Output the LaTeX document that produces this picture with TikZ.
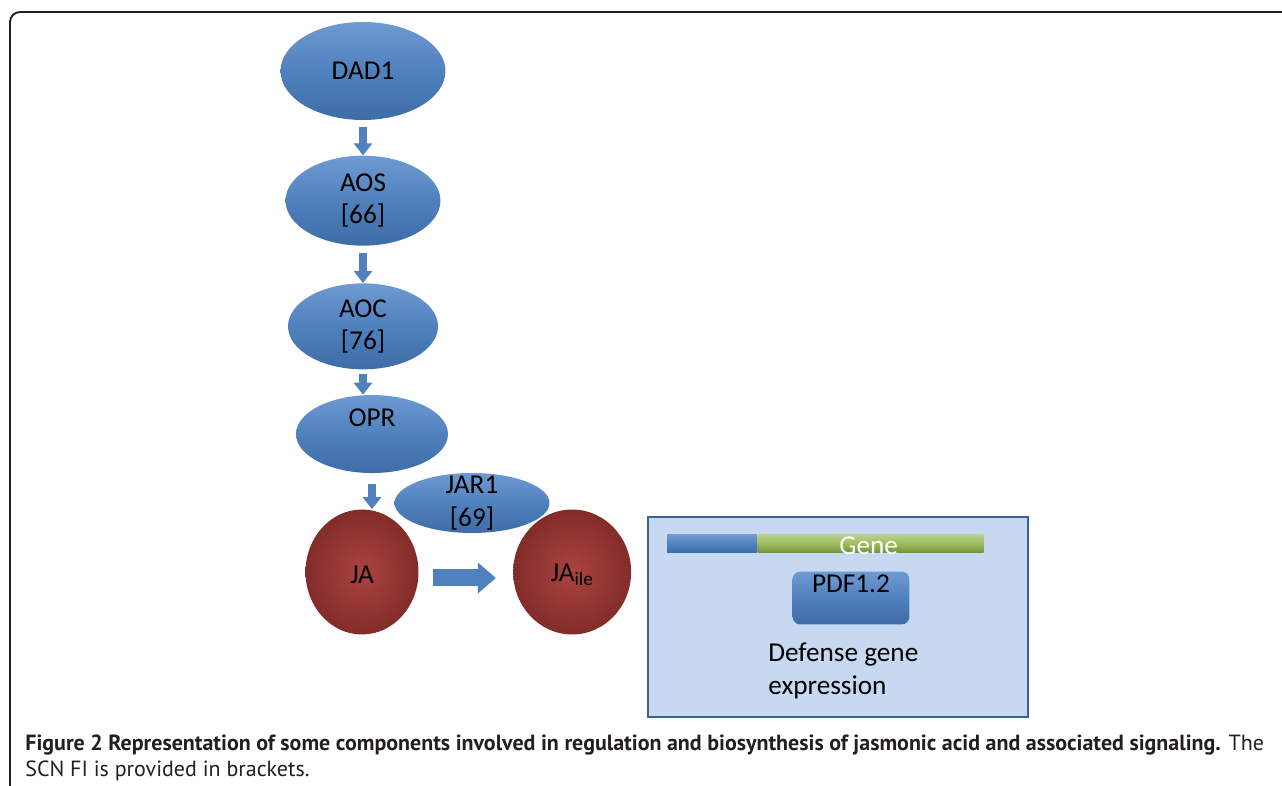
\documentclass[tikz,border=0pt]{standalone}
\usepackage{fontspec}
\setmainfont{Carlito}
\newfontfamily\capfont{PT Sans}
\usepackage{tikz}
\usetikzlibrary{positioning,arrows.meta,shapes.geometric}

\definecolor{enzblue}{HTML}{4F81BD}
\definecolor{enztop}{HTML}{6F9AD2}
\definecolor{enzbot}{HTML}{3D6DA9}
\definecolor{jared}{HTML}{AC4340}
\definecolor{jadark}{HTML}{822C2A}
\definecolor{boxfill}{HTML}{C6D9F0}
\definecolor{boxline}{HTML}{3A6393}
\definecolor{genegreen}{HTML}{9BBB59}
\definecolor{capgray}{HTML}{231F20}

\begin{document}
\begin{tikzpicture}[
    x=0.02cm, y=-0.02cm,
    font=\fontsize{15.5}{18.5}\selectfont,
    enz/.style={ellipse, inner sep=0pt, top color=enztop, bottom color=enzbot, middle color=enzblue,
        label={[align=center, inner sep=0pt]center:#1}},
    acid/.style={ellipse, inner sep=0pt, inner color=jared, outer color=jadark, minimum height=2.5cm},
    flow/.style={-{Triangle[width=0.36cm, length=0.24cm]}, line width=0.16cm, draw=enzblue, shorten <=0.14cm},
    bigflow/.style={-{Triangle[width=0.6cm, length=0.36cm]}, line width=0.34cm, draw=enzblue},
    genepart/.style={rectangle, inner sep=0pt, minimum height=0.36cm},
    lbl/.style={inner sep=0pt, align=left}
]
\useasboundingbox (0,0) rectangle (1282,786);

% frame of the figure
\draw[capgray, line width=1.1pt, rounded corners=0.2cm] (10,800) -- (10,12) -- (1300,12);

% biosynthesis chain
\node[enz={DAD1}, minimum width=3.3cm, minimum height=1.96cm] (dad1) at (363,71) {};
\node[enz={AOS\\{[66]}}, minimum width=3.1cm, minimum height=1.8cm, below=0.7cm of dad1] (aos) {};
\node[enz={AOC\\{[76]}}, minimum width=3.0cm, minimum height=1.72cm, below=0.74cm of aos] (aoc) {};
\node[enz={OPR\\{}}, minimum width=3.04cm, minimum height=1.56cm, below=0.5cm of aoc, xshift=0.18cm] (opr) {};

\draw[flow] (dad1.south) -- (dad1.south |- aos.north);
\draw[flow] (aos.south) -- (aos.south |- aoc.north);
\draw[flow, shorten <=0.08cm] (aoc.south) -- (aoc.south |- opr.north);

% conjugation
\node[acid, minimum width=2.26cm] (ja) at (362,572) {};
\node[acid, minimum width=2.36cm, right=1.88cm of ja] (jaile) {};
\node (jalbl) at ([yshift=-0.06cm]ja) {JA};
\node (jailelbl) at ([yshift=-0.06cm]jaile) {JA\textsubscript{ile}};
\node[enz={JAR1\\{[69]}}, minimum width=3.1cm, minimum height=1.2cm] (jar1) at (472,503) {};

\draw[flow, shorten <=0.22cm] (opr.south) -- (opr.south |- ja.north);
\draw[bigflow, shorten <=0.28cm, shorten >=0.34cm] ([yshift=-0.12cm]ja.east) -- ([yshift=-0.12cm]jaile.west);

% nucleus with target gene
\node[draw=boxline, line width=1.2pt, fill=boxfill, minimum width=7.6cm, minimum height=4cm, inner sep=0pt] (nucleus) at (838,617) {};
\node[genepart, top color=enztop, bottom color=enzbot, middle color=enzblue, minimum width=1.8cm] (promoter) at (712,544) {};
\node[genepart, top color=genegreen!70!white, bottom color=genegreen!75!black, middle color=genegreen, minimum width=4.52cm, right=0pt of promoter] (genebody) {};
\node[text=white] (genelbl) at ([yshift=-0.04cm, xshift=-0.04cm]genebody) {Gene};

\node[rectangle, rounded corners=0.16cm, top color=enztop, bottom color=enzbot, middle color=enzblue,
      minimum width=2.34cm, minimum height=1.06cm] (pdf) at (851,598) {};
\node[anchor=north, inner sep=0pt] (pdflbl) at ([yshift=-0.06cm]pdf.north) {PDF1.2};
\node[lbl, anchor=west] (defense) at (768,671) {Defense gene\\expression};

% caption
\node[lbl, anchor=north west, text=capgray, font=\capfont\fontsize{12.5}{15.3}\selectfont] (caption) at (25,734)
  {\textbf{Figure 2 Representation of some components involved in regulation and biosynthesis of jasmonic acid and associated signaling.} The\\SCN FI is provided in brackets.};
\end{tikzpicture}
\end{document}
